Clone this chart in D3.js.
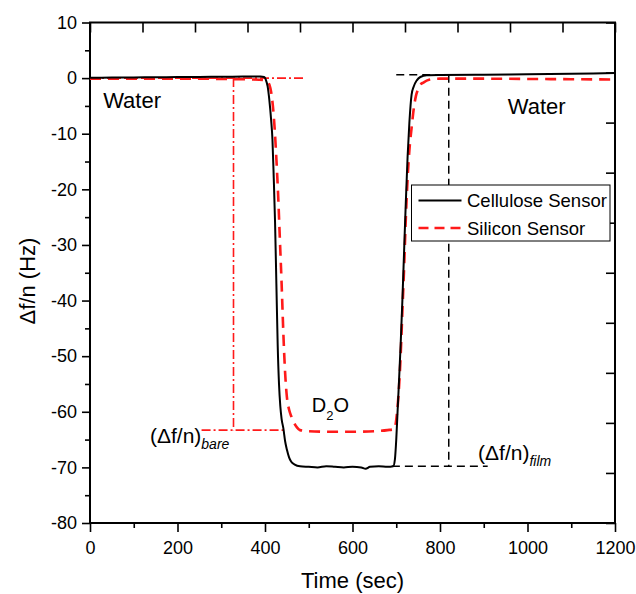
<!DOCTYPE html>
<html>
<head>
<meta charset="utf-8">
<script src="https://cdn.jsdelivr.net/npm/d3@7"></script>
<style>
  body { margin: 0; background: #fff; }
  svg { display: block; font-family: "Liberation Sans", Arial, sans-serif; }
</style>
</head>
<body>
<div id="host"><svg></svg></div>
<script>
const WIDTH = 636;
const HEIGHT = 594;
const MARGIN = { top: 22.5, right: 21, bottom: 71, left: 90 };

const BLACK = "#000000";
const RED = "#ff1a1a";

// Cellulose sensor (time in sec, df/n in Hz)
const T_CELL = [0, 50, 100, 150, 200, 250, 300, 350, 390, 398, 402, 406, 410, 414, 417, 420, 423, 426, 429, 432, 435, 438, 442, 446, 450, 455, 460, 468, 480, 500, 520, 540, 560, 580, 600, 620, 630, 640, 660, 680, 693, 697, 700, 703, 706, 710, 714, 718, 722, 726, 730, 735, 740, 747, 755, 770, 800, 900, 1000, 1100, 1200];
const CELL = [0.07, 0.1, 0.12, 0.15, 0.18, 0.22, 0.25, 0.27, 0.3, 0.2, -0.3, -1.5, -4, -7.5, -11, -18, -26, -37, -48, -55, -59, -61.3, -63, -65.3, -66.8, -68.2, -69, -69.5, -69.8, -69.9, -70.0, -69.8, -69.9, -70.0, -69.9, -70.0, -70.25, -69.9, -69.8, -69.9, -69.8, -68.5, -65, -60, -55, -48, -40, -31, -22, -14, -8, -3, -1.5, -0.4, 0.2, 0.5, 0.55, 0.6, 0.7, 0.8, 0.9];

// Silicon sensor
const T_SIL = [0, 100, 200, 300, 370, 395, 405, 410, 414, 418, 422, 426, 430, 434, 438, 442, 446, 450, 455, 460, 466, 473, 480, 500, 550, 600, 650, 680, 696, 699, 702, 706, 710, 714, 718, 722, 726, 730, 735, 740, 745, 750, 755, 762, 775, 800, 900, 1000, 1100, 1200];
const SIL = [-0.1, -0.1, -0.1, -0.15, -0.25, -0.35, -0.6, -1.2, -2.5, -5, -9, -14.5, -21, -29, -37, -46, -53, -57.3, -59.6, -60.8, -61.9, -62.8, -63.3, -63.5, -63.6, -63.6, -63.5, -63.3, -63.1, -62, -60, -56, -50, -42, -34, -25, -18, -13, -9, -5.5, -3.2, -2, -1.2, -0.8, -0.3, -0.1, -0.1, -0.15, -0.2, -0.25];

// guide levels
const BARE_LEVEL = -63.3;
const FILM_LEVEL = -69.8;
const FILM_TOP = 0.6;
const BARE_TIME = 328;
const FILM_TIME = 820;

const X_MAJOR = [0, 200, 400, 600, 800, 1000, 1200];
const X_MINOR = [100, 300, 500, 700, 900, 1100];
const Y_MAJOR = [-80, -70, -60, -50, -40, -30, -20, -10, 0, 10];
const Y_MINOR = [-75, -65, -55, -45, -35, -25, -15, -5, 5];
const X_TOP = d3.range(0, 1201, 120);
const Y_RIGHT = d3.range(-80, 10.01, 9);

const SERIES = ["Cellulose Sensor", "Silicon Sensor"];

const svg = d3.select("#host svg").attr("width", WIDTH).attr("height", HEIGHT);

const x = d3.scaleLinear().domain([0, 1200]).range([MARGIN.left, WIDTH - MARGIN.right]);
const y = d3.scaleLinear().domain([-80, 10]).range([HEIGHT - MARGIN.bottom, MARGIN.top]);

function drawAxes() {
  const g = svg.append("g");
  const bottom = HEIGHT - MARGIN.bottom;
  const right = WIDTH - MARGIN.right;

  function styleAxis(sel) {
    sel.select(".domain").remove();
    sel.selectAll("line").attr("stroke", BLACK).attr("stroke-width", 1.6);
    sel.selectAll("text")
      .attr("fill", BLACK)
      .style("font-size", "18px")
      .style("font-family", '"Liberation Sans", Arial, sans-serif');
  }

  g.append("g").attr("transform", `translate(0,${bottom})`)
    .call(d3.axisBottom(x).tickValues(X_MINOR).tickSize(5).tickFormat(""))
    .call(styleAxis);
  g.append("g").attr("transform", `translate(0,${bottom})`)
    .call(d3.axisBottom(x).tickValues(X_MAJOR).tickSize(9).tickPadding(9).tickFormat(d3.format("d")))
    .call(styleAxis);

  g.append("g").attr("transform", `translate(${MARGIN.left},0)`)
    .call(d3.axisLeft(y).tickValues(Y_MINOR).tickSize(5).tickFormat(""))
    .call(styleAxis);
  g.append("g").attr("transform", `translate(${MARGIN.left},0)`)
    .call(d3.axisLeft(y).tickValues(Y_MAJOR).tickSize(8).tickPadding(5).tickFormat((d) => String(d)))
    .call(styleAxis);

  g.append("g").attr("transform", `translate(0,${MARGIN.top})`)
    .call(d3.axisTop(x).tickValues(X_TOP).tickSizeInner(-10).tickSizeOuter(0).tickFormat(""))
    .call(styleAxis);
  g.append("g").attr("transform", `translate(${right},0)`)
    .call(d3.axisRight(y).tickValues(Y_RIGHT).tickSizeInner(-9).tickSizeOuter(0).tickFormat(""))
    .call(styleAxis);

  g.append("rect")
    .attr("x", MARGIN.left)
    .attr("y", MARGIN.top)
    .attr("width", right - MARGIN.left)
    .attr("height", bottom - MARGIN.top)
    .attr("fill", "none")
    .attr("stroke", BLACK)
    .attr("stroke-width", 2);

  svg.append("text")
    .attr("x", (MARGIN.left + right) / 2)
    .attr("y", 588)
    .attr("text-anchor", "middle")
    .style("font-size", "22px")
    .text("Time (sec)");

  svg.append("text")
    .attr("transform", "translate(35,281) rotate(-90)")
    .attr("text-anchor", "middle")
    .style("font-size", "22px")
    .text("\u0394f/n (Hz)");
}

function guide(points, color, dash, width) {
  svg.append("path")
    .attr("d", d3.line().x((d) => x(d[0])).y((d) => y(d[1]))(points))
    .attr("fill", "none")
    .attr("stroke", color)
    .attr("stroke-width", width)
    .attr("stroke-dasharray", dash);
}

function drawGuides() {
  const dashDot = "9,3,2,3";
  guide([[0, 0], [490, 0]], RED, dashDot, 1.6);
  guide([[BARE_TIME, 0], [BARE_TIME, BARE_LEVEL]], RED, dashDot, 1.6);
  guide([[255, BARE_LEVEL], [442, BARE_LEVEL]], RED, dashDot, 1.6);

  guide([[700, FILM_TOP], [FILM_TIME, FILM_TOP]], BLACK, "8,5", 1.5);
  guide([[FILM_TIME, FILM_TOP], [FILM_TIME, FILM_LEVEL]], BLACK, "8,5", 1.5);
  guide([[690, FILM_LEVEL], [909, FILM_LEVEL]], BLACK, "8,5", 1.5);
}

function drawSeries() {
  const line = d3.line()
    .x((d) => x(d[0]))
    .y((d) => y(d[1]))
    .curve(d3.curveMonotoneX);

  svg.append("path")
    .datum(d3.zip(T_SIL, SIL))
    .attr("d", line)
    .attr("fill", "none")
    .attr("stroke", RED)
    .attr("stroke-width", 2.6)
    .attr("stroke-dasharray", "11,7");

  svg.append("path")
    .datum(d3.zip(T_CELL, CELL))
    .attr("d", line)
    .attr("fill", "none")
    .attr("stroke", BLACK)
    .attr("stroke-width", 2);
}

function drawLabels() {
  const labels = svg.append("g").attr("fill", BLACK);

  labels.append("text").attr("x", x(30)).attr("y", y(-5.3))
    .style("font-size", "22px").text("Water");
  labels.append("text").attr("x", x(955)).attr("y", y(-6.4))
    .style("font-size", "22px").text("Water");

  const d2o = labels.append("text").attr("x", x(507)).attr("y", y(-60))
    .style("font-size", "20px");
  d2o.append("tspan").text("D");
  d2o.append("tspan").attr("dy", 8).style("font-size", "13px").text("2");
  d2o.append("tspan").attr("dy", -8).text("O");

  const bare = labels.append("text").attr("x", x(137)).attr("y", y(-65.6))
    .style("font-size", "21px");
  bare.append("tspan").text("(\u0394f/n)");
  bare.append("tspan").attr("dy", 6).style("font-size", "14px")
    .style("font-style", "italic").text("bare");

  const film = labels.append("text").attr("x", x(887)).attr("y", y(-68.7))
    .style("font-size", "21px");
  film.append("tspan").text("(\u0394f/n)");
  film.append("tspan").attr("dy", 6).style("font-size", "14px")
    .style("font-style", "italic").text("film");
}

function drawLegend() {
  const g = svg.append("g").attr("transform", "translate(411.5,185)");
  g.append("rect")
    .attr("width", 198.5)
    .attr("height", 56)
    .attr("fill", "#fff")
    .attr("stroke", BLACK)
    .attr("stroke-width", 1);

  const rows = g.selectAll("g.row")
    .data(SERIES)
    .join("g")
    .attr("class", "row")
    .attr("transform", (d, i) => `translate(0,${15.5 + i * 27.5})`);

  rows.append("line")
    .attr("x1", 7)
    .attr("x2", 50)
    .attr("stroke", (d, i) => (i === 0 ? BLACK : RED))
    .attr("stroke-width", (d, i) => (i === 0 ? 2 : 2.6))
    .attr("stroke-dasharray", (d, i) => (i === 0 ? null : "10,6"));

  rows.append("text")
    .attr("x", 55.5)
    .attr("y", 6.5)
    .style("font-size", "18.5px")
    .text((d) => d);
}

drawAxes();
drawGuides();
drawSeries();
drawLabels();
drawLegend();
</script>
</body>
</html>
